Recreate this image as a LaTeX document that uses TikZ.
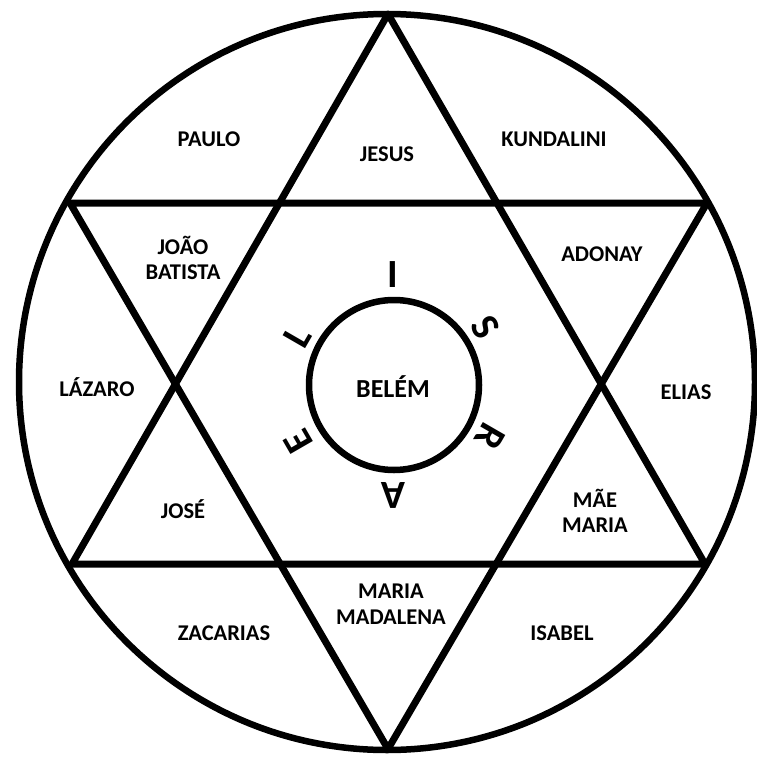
\documentclass[tikz,border=0pt]{standalone}
\usepackage{fontspec}
\setmainfont{Carlito}
\begin{document}
\begin{tikzpicture}[x=1pt,y=-1pt,
  heavy/.style={line width=7pt,line join=round},
  lbl/.style={font=\fontsize{22.5}{25.5}\selectfont\bfseries,align=center,inner sep=0pt},
  center/.style={font=\fontsize{26}{28}\selectfont\bfseries,inner sep=0pt},
  letter/.style={font=\fontsize{40}{42}\selectfont\bfseries,inner sep=0pt}]
\useasboundingbox (0,0) rectangle (757,760);
% outer circle and star vertices
\coordinate (O) at (387,382);
\coordinate (T) at (388,14);
\coordinate (B) at (388,749);
\coordinate (UL) at (70,203);
\coordinate (UR) at (707,203);
\coordinate (LL) at (72,564);
\coordinate (LR) at (705,564);
\draw[line width=6.5pt] (O) circle[radius=368];
\draw[heavy] (T) -- (LR) -- (LL) -- cycle;
\draw[heavy] (B) -- (UR) -- (UL) -- cycle;
% inner circle
\coordinate (C) at (394,385);
\draw[line width=6.5pt] (C) circle[radius=85];
\node[center] (belem) at (393,387) {BELÉM};
% ISRAEL letters
\node[letter] (lI) at (393,275) {I};
\node[letter,rotate=-60] (lS) at (485,327) {S};
\node[letter,rotate=-120] (lR) at (490,437) {R};
\node[letter,rotate=180] (lA) at (393,495) {A};
\node[letter,rotate=120] (lE) at (298,442) {E};
\node[letter,rotate=60] (lL) at (297,337) {L};
% labels
\node[lbl] (paulo) at (209,139) {PAULO};
\node[lbl] (jesus) at (387,154) {JESUS};
\node[lbl] (kund) at (554,139) {KUNDALINI};
\node[lbl] (joao) at (183,258) {JOÃO\\BATISTA};
\node[lbl] (adonay) at (602,254) {ADONAY};
\node[lbl] (lazaro) at (97,387) {LÁZARO};
\node[lbl] (elias) at (686,392) {ELIAS};
\node[lbl] (jose) at (183,509) {JOSÉ};
\node[lbl] (mae) at (595,511) {MÃE\\MARIA};
\node[lbl] (madalena) at (391,604) {MARIA\\MADALENA};
\node[lbl] (zacarias) at (224,633) {ZACARIAS};
\node[lbl] (isabel) at (562,633) {ISABEL};
\end{tikzpicture}
\end{document}
